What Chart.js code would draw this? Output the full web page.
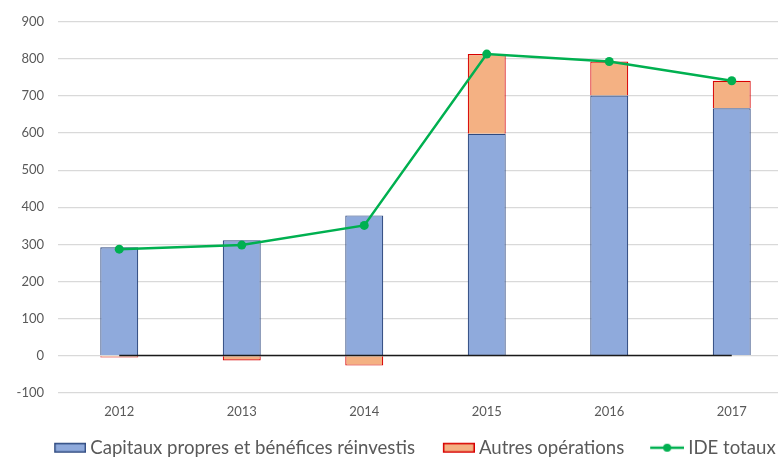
<!DOCTYPE html>
<html>
<head>
<meta charset="utf-8">
<script src="https://cdn.jsdelivr.net/npm/chart.js@4/dist/chart.umd.min.js"></script>
<style>
  html, body { margin: 0; padding: 0; background: #fff; overflow: hidden; }
  #wrap { position: relative; width: 875px; height: 467px; }
</style>
</head>
<body>
<div id="wrap"><canvas id="c"></canvas></div>
<script>
// Années
const annees = ['2012', '2013', '2014', '2015', '2016', '2017'];
// Capitaux propres et bénéfices réinvestis
const capitaux = [292, 311, 378, 598, 701, 667];
// Autres opérations
const autres = [-5, -13, -27, 215, 92, 74];
// IDE totaux
const ideTotaux = [287, 298, 351, 813, 793, 741];
// Ligne du zéro
const zero = [0, 0, 0, 0, 0, 0];

const FONT = 'Lato, "Open Sans", sans-serif';
const TXT = '#595959';
const LEG_SIZE = 18.6;
const LEG_PAD = 15.1;
const ICON_SLOT = 54.7 - LEG_PAD;      // largeur réservée à chaque symbole de légende
const SHIFT = LEG_SIZE / 2 - 4;        // rapproche le symbole du texte

// Symboles de légende dessinés dans un canevas, alignés à droite
function iconCanvas(draw, iconW) {
  const c = document.createElement('canvas');
  c.width = Math.round(ICON_SLOT + 2 * SHIFT);
  c.height = 14;
  const g = c.getContext('2d');
  const x0 = c.width - iconW;
  draw(g, x0, iconW);
  return c;
}
const legendIcons = [
  iconCanvas((g, x0, w) => {
    g.fillStyle = '#8FAADC'; g.fillRect(x0, 2, w, 10);
    g.strokeStyle = '#2F4A80'; g.lineWidth = 1.5; g.strokeRect(x0 + 0.75, 2.75, w - 1.5, 8.5);
  }, 32),
  iconCanvas((g, x0, w) => {
    g.fillStyle = '#F4B183'; g.fillRect(x0, 2, w, 10);
    g.strokeStyle = '#D80000'; g.lineWidth = 1.5; g.strokeRect(x0 + 0.75, 2.75, w - 1.5, 8.5);
  }, 32),
  iconCanvas((g, x0, w) => {
    g.strokeStyle = '#00B050'; g.lineWidth = 2.5;
    g.beginPath(); g.moveTo(x0, 7); g.lineTo(x0 + w, 7); g.stroke();
    g.fillStyle = '#00B050'; g.beginPath(); g.arc(x0 + w / 2, 7, 4, 0, Math.PI * 2); g.fill();
  }, 34)
];

// Décale la légende horizontalement
const legendOffset = {
  id: 'legendOffset',
  afterLayout(chart) {
    if (chart.legend) { chart.legend.left += 12; chart.legend.right += 12; }
  }
};

new Chart(document.getElementById('c'), {
  data: {
    labels: annees,
    datasets: [
      {
        type: 'line', label: 'IDE totaux', data: ideTotaux, stack: 'total',
        borderColor: '#00B050', backgroundColor: '#00B050', borderWidth: 2.5,
        pointRadius: 4.5, pointHoverRadius: 4.5, pointBackgroundColor: '#00B050',
        pointBorderWidth: 0, tension: 0, order: 0
      },
      {
        type: 'line', label: 'zero', data: zero, stack: 'zero',
        borderColor: '#1a1a1a', borderWidth: 1.5, pointRadius: 0, order: 1
      },
      {
        type: 'bar', label: 'Capitaux propres et bénéfices réinvestis', data: capitaux, stack: 'ide',
        backgroundColor: '#8FAADC', borderColor: '#2F4A80', borderWidth: 1.2, order: 2
      },
      {
        type: 'bar', label: 'Autres opérations', data: autres, stack: 'ide',
        backgroundColor: '#F4B183', borderColor: '#D80000', borderWidth: 1.2, order: 2
      }
    ]
  },
  plugins: [legendOffset],
  options: {
    responsive: true,
    maintainAspectRatio: false,
    animation: false,
    datasets: { bar: { barPercentage: 0.31, categoryPercentage: 1 } },
    layout: { padding: { top: 7, right: 82, left: 0, bottom: 0 } },
    scales: {
      x: {
        stacked: true,
        grid: { display: false },
        border: { display: false },
        ticks: { color: TXT, font: { family: FONT, size: 13 }, padding: 3.5 }
      },
      y: {
        stacked: true,
        min: -100, max: 900,
        ticks: { stepSize: 100, color: TXT, font: { family: FONT, size: 13 }, padding: 14 },
        grid: { color: '#D9D9D9', lineWidth: 1.3, drawTicks: false },
        border: { display: false },
        afterFit: (s) => { s.width = 58; }
      }
    },
    plugins: {
      tooltip: { enabled: false },
      legend: {
        position: 'bottom',
        labels: {
          usePointStyle: true,
          pointStyleWidth: ICON_SLOT,
          boxHeight: 12,
          padding: LEG_PAD,
          color: TXT,
          font: { family: FONT, size: LEG_SIZE },
          generateLabels: (chart) => {
            const items = Chart.defaults.plugins.legend.labels.generateLabels(chart)
              .filter(it => it.text !== 'zero');
            const orderMap = {
              'Capitaux propres et bénéfices réinvestis': 0,
              'Autres opérations': 1,
              'IDE totaux': 2
            };
            items.sort((a, b) => orderMap[a.text] - orderMap[b.text]);
            items.forEach(it => { it.pointStyle = legendIcons[orderMap[it.text]]; it.lineWidth = 0; });
            return items;
          }
        }
      }
    }
  }
});
</script>
</body>
</html>
